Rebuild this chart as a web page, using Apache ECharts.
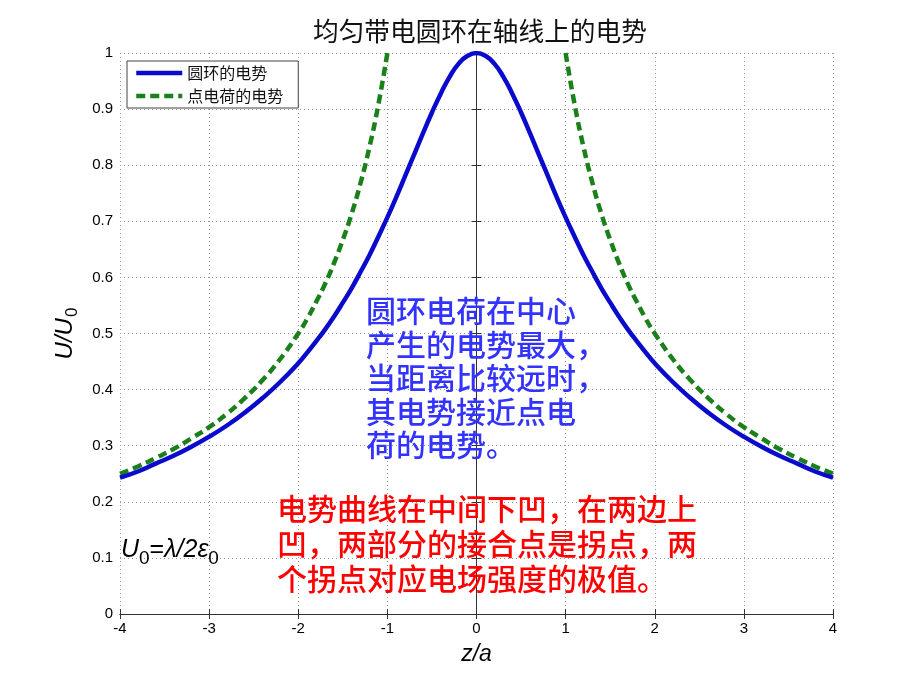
<!DOCTYPE html>
<html>
<head>
<meta charset="utf-8">
<script src="https://cdn.jsdelivr.net/npm/echarts@6/dist/echarts.min.js"></script>
<style>
  html, body { margin: 0; padding: 0; background: #fff; }
  #chart { width: 920px; height: 690px; }
</style>
</head>
<body>
<div id="chart"></div>
<script>
// z/a 取样点
const zValues = [
  -4, -3.8, -3.6, -3.4, -3.2, -3, -2.8, -2.6, -2.4, -2.2,
  -2, -1.9, -1.8, -1.7, -1.6, -1.5, -1.4, -1.3, -1.2, -1.1,
  -1, -0.9, -0.8, -0.7, -0.6, -0.5, -0.4, -0.3, -0.2, -0.1,
  0,
  0.1, 0.2, 0.3, 0.4, 0.5, 0.6, 0.7, 0.8, 0.9, 1,
  1.1, 1.2, 1.3, 1.4, 1.5, 1.6, 1.7, 1.8, 1.9, 2,
  2.2, 2.4, 2.6, 2.8, 3, 3.2, 3.4, 3.6, 3.8, 4
]

// 圆环的电势 U/U0
const ringValues = [
  0.243, 0.254, 0.268, 0.282, 0.298, 0.316, 0.336, 0.359, 0.385, 0.414,
  0.447, 0.466, 0.486, 0.507, 0.530, 0.555, 0.581, 0.610, 0.640, 0.673,
  0.707, 0.743, 0.781, 0.819, 0.857, 0.894, 0.928, 0.958, 0.981, 0.995,
  1,
  0.995, 0.981, 0.958, 0.928, 0.894, 0.857, 0.819, 0.781, 0.743, 0.707,
  0.673, 0.640, 0.610, 0.581, 0.555, 0.530, 0.507, 0.486, 0.466, 0.447,
  0.414, 0.385, 0.359, 0.336, 0.316, 0.298, 0.282, 0.268, 0.254, 0.243
]

// 点电荷的电势 U/U0（|z|<1 超出坐标范围）
const pointValues = [
  0.25, 0.263, 0.278, 0.294, 0.313, 0.333, 0.357, 0.385, 0.417, 0.455,
  0.5, 0.526, 0.556, 0.588, 0.625, 0.667, 0.714, 0.769, 0.833, 0.909,
  1, null, null, null, null, null, null, null, null, null,
  null,
  null, null, null, null, null, null, null, null, null, 1,
  0.909, 0.833, 0.769, 0.714, 0.667, 0.625, 0.588, 0.556, 0.526, 0.5,
  0.455, 0.417, 0.385, 0.357, 0.333, 0.313, 0.294, 0.278, 0.263, 0.25
]

const seriesNames = ['圆环的电势', '点电荷的电势']

const blueNote = '圆环电荷在中心\n产生的电势最大，\n当距离比较远时，\n其电势接近点电\n荷的电势。'
const redNote = '电势曲线在中间下凹，在两边上\n凹，两部分的接合点是拐点，两\n个拐点对应电场强度的极值。'

const cjk = '"Noto Sans CJK SC", sans-serif'
const latin = '"Liberation Sans", Arial, sans-serif'

const chart = echarts.init(document.getElementById('chart'))

const gridLine = { show: true, lineStyle: { color: '#999', type: [1, 3], width: 1 } }
const frameLine = { show: true, lineStyle: { color: '#333', width: 1 } }
const tick = { show: true, inside: true, length: 5, lineStyle: { color: '#333' } }

chart.setOption({
  backgroundColor: '#fff',
  animation: false,
  title: {
    text: '均匀带电圆环在轴线上的电势',
    left: 308,
    top: 13,
    textStyle: { fontFamily: cjk, fontSize: 25.7, fontWeight: 'normal', color: '#111' }
  },
  grid: { left: 120, right: 87, top: 53, bottom: 76 },
  legend: {
    data: seriesNames,
    orient: 'vertical',
    left: 127,
    top: 61,
    padding: [4, 15, 4, 7],
    itemWidth: 46,
    itemHeight: 10,
    itemGap: 7,
    backgroundColor: '#fff',
    borderColor: '#444',
    borderWidth: 1,
    borderRadius: 0,
    itemStyle: { opacity: 0 },
    lineStyle: { width: 4.5 },
    textStyle: { fontFamily: cjk, fontSize: 16, color: '#111' }
  },
  xAxis: [{
    type: 'value',
    min: -4,
    max: 4,
    interval: 1,
    name: 'z/a',
    nameLocation: 'middle',
    nameGap: 29,
    nameTextStyle: { fontFamily: latin, fontSize: 23, fontStyle: 'italic', color: '#000' },
    axisLine: frameLine,
    axisTick: tick,
    axisLabel: { fontFamily: latin, fontSize: 15, color: '#000', margin: 7 },
    splitLine: gridLine
  }, {
    type: 'value',
    position: 'top',
    min: -4,
    max: 4,
    interval: 1,
    axisLine: frameLine,
    axisTick: tick,
    axisLabel: { show: false },
    splitLine: { show: false }
  }],
  yAxis: [{
    type: 'value',
    min: 0,
    max: 1,
    interval: 0.1,
    name: '{i|U/U}{s|0}',
    nameLocation: 'middle',
    nameGap: 39,
    nameTextStyle: {
      rich: {
        i: { fontFamily: latin, fontSize: 24, fontStyle: 'italic', color: '#000' },
        s: { fontFamily: latin, fontSize: 17, color: '#000', padding: [14, 0, 0, 1] }
      }
    },
    axisLine: frameLine,
    axisTick: tick,
    axisLabel: { fontFamily: latin, fontSize: 15, color: '#000', margin: 7 },
    splitLine: gridLine
  }, {
    type: 'value',
    position: 'right',
    min: 0,
    max: 1,
    interval: 0.1,
    axisLine: frameLine,
    axisTick: tick,
    axisLabel: { show: false },
    splitLine: { show: false }
  }],
  series: [{
    name: seriesNames[0],
    type: 'line',
    data: zValues.map((z, i) => [z, ringValues[i]]),
    smooth: true,
    symbol: 'none',
    color: '#0a0acc',
    lineStyle: { color: '#0a0acc', width: 4.5 },
    z: 3
  }, {
    name: seriesNames[1],
    type: 'line',
    data: zValues.map((z, i) => [z, pointValues[i]]),
    smooth: true,
    symbol: 'none',
    connectNulls: false,
    color: '#1a801a',
    lineStyle: { color: '#1a801a', width: 4.5, type: [9, 5] },
    z: 2
  }],
  graphic: [{
    type: 'text',
    left: 366,
    top: 294,
    z: 10,
    style: {
      text: blueNote,
      fontFamily: cjk,
      fontSize: 30,
      fontWeight: 500,
      lineHeight: 33.5,
      fill: '#3333ff'
    }
  }, {
    type: 'text',
    left: 277,
    top: 491,
    z: 10,
    style: {
      text: redNote,
      fontFamily: cjk,
      fontSize: 30,
      fontWeight: 500,
      lineHeight: 35,
      fill: '#ff0000'
    }
  }, {
    type: 'text',
    left: 121,
    top: 538,
    z: 10,
    style: {
      text: '{i|U}{s|0}{n|=}{i|λ/2ε}{s|0}',
      rich: {
        i: { fontFamily: latin, fontSize: 25, fontStyle: 'italic', fill: '#000' },
        n: { fontFamily: latin, fontSize: 25, fill: '#000' },
        s: { fontFamily: latin, fontSize: 19, fill: '#000', padding: [16, 0, 0, 0] }
      }
    }
  }]
})
</script>
</body>
</html>
